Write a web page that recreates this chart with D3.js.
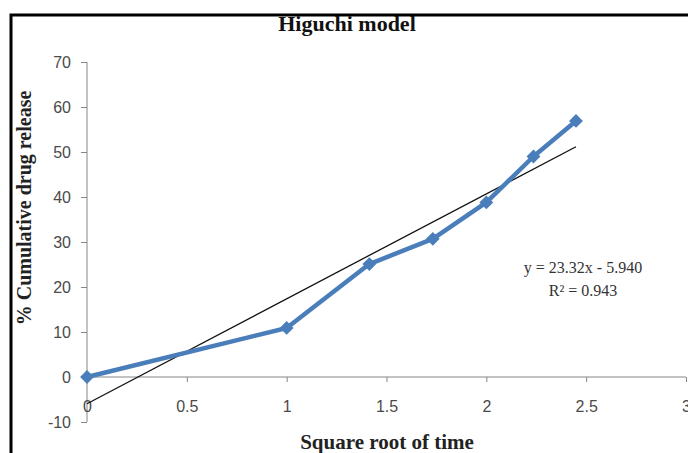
<!DOCTYPE html>
<html>
<head>
<meta charset="utf-8">
<script src="https://cdn.jsdelivr.net/npm/d3@7"></script>
<style>
  body { margin: 0; background: #fff; }
  .tick text { font-family: "Liberation Sans", sans-serif; font-size: 16px; fill: #4a4a4a; }
  .axis path, .axis line { stroke: #868686; }
</style>
</head>
<body>
<svg width="688" height="453"></svg>
<script>
// square root of time vs % cumulative drug release
var sqrtTime = [0, 1, 1.414, 1.732, 2, 2.236, 2.449];
var release = [0, 10.9, 25.1, 30.7, 38.8, 49, 56.9];
var slope = 23.32, intercept = -5.940;
var xTicks = [0, 0.5, 1, 1.5, 2, 2.5, 3];
var yTicks = [-10, 0, 10, 20, 30, 40, 50, 60, 70];

var svg = d3.select("svg");

var x = d3.scaleLinear().domain([0, 3]).range([87, 686]);
var y = d3.scaleLinear().domain([-10, 70]).range([422, 62]);

var data = sqrtTime.map(function(t, i) { return {x: t, y: release[i]}; });

// chart frame
svg.append("rect")
    .attr("x", 11).attr("y", 15)
    .attr("width", 700).attr("height", 460)
    .attr("fill", "none")
    .attr("stroke", "#000")
    .attr("stroke-width", 3);

svg.append("text")
    .attr("x", 347).attr("y", 31)
    .attr("text-anchor", "middle")
    .style("font-family", "Liberation Serif, serif")
    .style("font-weight", "bold")
    .style("font-size", "22px")
    .attr("fill", "#111")
    .text("Higuchi model");

// y axis
svg.append("g")
    .attr("class", "axis")
    .attr("transform", "translate(" + x(0) + ",0)")
    .call(d3.axisLeft(y).tickValues(yTicks).tickSize(6).tickPadding(10).tickFormat(function(d) { return String(d); }))
    .call(function(g) { g.select(".domain").attr("d", "M0," + y(-10) + "V" + y(70)); });

// x axis along zero, labels dropped below plot
var xa = svg.append("g")
    .attr("class", "axis")
    .attr("transform", "translate(0," + y(0) + ")")
    .call(d3.axisBottom(x).tickValues(xTicks).tickSize(5).tickFormat(function(d) { return d; }))
    .call(function(g) { g.select(".domain").attr("d", "M" + x(0) + ",0H" + x(3)); });
xa.selectAll(".tick text").attr("y", y(-10) - y(0) - 21);

// fitted line
var xMax = d3.max(sqrtTime);
svg.append("line")
    .attr("x1", x(0)).attr("y1", y(intercept))
    .attr("x2", x(xMax)).attr("y2", y(slope * xMax + intercept))
    .attr("stroke", "#111")
    .attr("stroke-width", 1.3);

svg.append("path")
    .datum(data)
    .attr("fill", "none")
    .attr("stroke", "#4a7ebb")
    .attr("stroke-width", 4.5)
    .attr("stroke-linejoin", "round")
    .attr("d", d3.line().x(function(d) { return x(d.x); }).y(function(d) { return y(d.y); }));

svg.selectAll(".pt")
    .data(data)
  .enter().append("path")
    .attr("class", "pt")
    .attr("d", d3.symbol().type(d3.symbolSquare).size(95))
    .attr("transform", function(d) { return "translate(" + x(d.x) + "," + y(d.y) + ") rotate(45)"; })
    .attr("fill", "#4a7ebb");

// equation
var eq = svg.append("text")
    .attr("text-anchor", "middle")
    .style("font-family", "Liberation Serif, serif")
    .style("font-size", "16px")
    .attr("fill", "#333");
eq.append("tspan").attr("x", 583).attr("y", 273).text("y = 23.32x - 5.940");
eq.append("tspan").attr("x", 583).attr("y", 296).text("R² = 0.943");

// axis titles
svg.append("text")
    .attr("x", 387).attr("y", 449)
    .attr("text-anchor", "middle")
    .style("font-family", "Liberation Serif, serif")
    .style("font-weight", "bold")
    .style("font-size", "21px")
    .attr("fill", "#222")
    .text("Square root of time");

svg.append("text")
    .attr("transform", "translate(31,208) rotate(-90)")
    .attr("text-anchor", "middle")
    .style("font-family", "Liberation Serif, serif")
    .style("font-weight", "bold")
    .style("font-size", "20px")
    .attr("fill", "#222")
    .text("% Cumulative drug release");
</script>
</body>
</html>
